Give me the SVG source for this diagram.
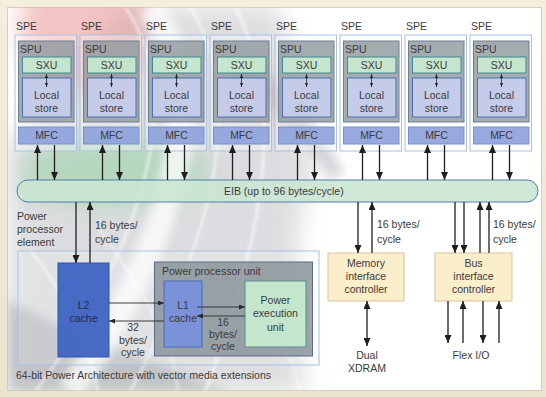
<svg xmlns="http://www.w3.org/2000/svg" width="546" height="397" viewBox="0 0 546 397">
  <defs>
    <style>
      .t { font-family: "Liberation Sans", Arial, sans-serif; font-size: 10.5px; fill: #3b3b3b; }
      .c { text-anchor: middle; }
      .spe { fill: #ffffff; fill-opacity: 0.35; stroke: #a9c1e2; stroke-width: 1; }
      .spu { fill: #8f979c; fill-opacity: 0.8; stroke: #6f7f92; stroke-width: 1; }
      .sxu { fill: #c6e8d0; fill-opacity: 0.95; stroke: #3f8a90; stroke-width: 1; }
      .ls { fill: #c9d0f0; fill-opacity: 0.88; stroke: #4a6fb5; stroke-width: 1; }
      .mfc { fill: #8ea2db; fill-opacity: 0.92; stroke: #7890cf; stroke-width: 1; }
      .ctl { fill: #fbeecb; stroke: #d6c69e; stroke-width: 1; }
      .ln { fill: none; stroke: #1e1e1e; stroke-width: 1.3; }
      .lns { fill: none; stroke: #2a2a2a; stroke-width: 0.9; }
      .up { marker-end: url(#ah); }
      .bi { marker-start: url(#ah); marker-end: url(#ah); }
      .sm { marker-end: url(#ahs); }
      .tiny { fill: none; stroke: #222; stroke-width: 0.8; marker-start: url(#aht); marker-end: url(#aht); }
    </style>
    <marker id="ah" viewBox="0 0 8 7" refX="8" refY="3.5" markerWidth="8" markerHeight="7" markerUnits="userSpaceOnUse" orient="auto-start-reverse">
      <path d="M0,0 L8,3.5 L0,7 Z" fill="#1e1e1e"/>
    </marker>
    <marker id="ahs" viewBox="0 0 6 5" refX="6" refY="2.5" markerWidth="6" markerHeight="5" markerUnits="userSpaceOnUse" orient="auto-start-reverse">
      <path d="M0,0 L6,2.5 L0,5 Z" fill="#2a2a2a"/>
    </marker>
    <marker id="aht" viewBox="0 0 4 3" refX="4" refY="1.5" markerWidth="4" markerHeight="3" markerUnits="userSpaceOnUse" orient="auto-start-reverse">
      <path d="M0,0 L4,1.5 L0,3 Z" fill="#222"/>
    </marker>
    <linearGradient id="frame" x1="0" y1="0" x2="0" y2="1">
      <stop offset="0" stop-color="#f4eedf"/>
      <stop offset="1" stop-color="#ece3cc"/>
    </linearGradient>
    <filter id="haze" x="-40%" y="-40%" width="180%" height="180%">
      <feGaussianBlur stdDeviation="12"/>
    </filter>
    <filter id="soft" x="-20%" y="-20%" width="140%" height="140%">
      <feGaussianBlur stdDeviation="5"/>
    </filter>
    <filter id="streak" x="-20%" y="-20%" width="140%" height="140%">
      <feGaussianBlur stdDeviation="1.5"/>
    </filter>
    <clipPath id="panel">
      <rect x="7.5" y="7.5" width="534" height="383"/>
    </clipPath>
  </defs>

  <!-- frame and panel -->
  <rect x="0" y="0" width="546" height="397" fill="url(#frame)"/>
  <rect x="7.5" y="7.5" width="534" height="383" fill="#ffffff" stroke="#d8cfbb" stroke-width="1"/>

  <!-- decorative background swirl -->
  <g id="backdrop" clip-path="url(#panel)">
    <!-- grey wash: left and lower-left, plus the band across the top middle -->
    <path d="M8,140 C40,110 90,60 120,7 L280,7 C290,60 300,120 315,170 C290,215 295,300 305,392 L8,392 Z" fill="#b9bcc1" opacity="0.5" filter="url(#haze)"/>
    <path d="M8,300 C60,330 150,360 230,392 L8,392 Z" fill="#9ea1a6" opacity="0.45" filter="url(#soft)"/>
    <path d="M240,50 C285,85 318,125 345,172 L330,180 C300,135 268,100 232,75 Z" fill="#8e959f" opacity="0.35" filter="url(#soft)"/>
    <!-- warm and green tints -->
    <ellipse cx="85" cy="25" rx="65" ry="65" fill="#e68a8a" opacity="0.5" filter="url(#haze)"/>
    <ellipse cx="265" cy="100" rx="45" ry="28" fill="#e3a3b3" opacity="0.22" filter="url(#haze)"/>
    <ellipse cx="115" cy="172" rx="95" ry="34" fill="#8fd09c" opacity="0.5" filter="url(#haze)"/>
    <!-- white highlight band and streaks -->
    <path d="M150,7 C215,100 170,250 70,392" fill="none" stroke="#ffffff" stroke-width="26" opacity="0.75" filter="url(#soft)"/>
    <g fill="none" stroke="#ffffff" stroke-opacity="0.75" filter="url(#streak)">
      <path d="M125,7 C190,100 140,250 35,392" stroke-width="2"/>
      <path d="M190,7 C255,110 200,260 130,392" stroke-width="2"/>
      <path d="M235,7 C295,120 250,270 205,392" stroke-width="2.5"/>
      <path d="M100,230 C150,300 175,350 178,392" stroke-width="1.5"/>
      <path d="M30,250 C70,300 90,350 98,392" stroke-width="2"/>
      <path d="M210,260 C260,300 290,340 300,392" stroke-width="1.5"/>
    </g>
  </g>

  <!-- synergistic processor elements -->
  <g id="spe1" transform="translate(15,0)">
    <text class="t" x="1" y="30">SPE</text>
    <rect class="spe" x="0" y="35" width="61.5" height="116"/>
    <rect class="spu" x="3.5" y="41" width="55.5" height="81"/>
    <text class="t" x="5" y="53">SPU</text>
    <rect class="sxu" x="7.5" y="57" width="48.5" height="16"/>
    <text class="t c" x="31.5" y="69">SXU</text>
    <rect class="ls" x="7.5" y="78" width="48.5" height="39"/>
    <text class="t c" x="31.5" y="99">Local</text>
    <text class="t c" x="31.5" y="112">store</text>
    <line class="tiny" x1="31.5" y1="74" x2="31.5" y2="87"/>
    <rect class="mfc" x="3.5" y="127" width="55.5" height="17"/>
    <text class="t c" x="31.5" y="139">MFC</text>
  </g>
  <g id="spe2" transform="translate(80,0)">
    <text class="t" x="1" y="30">SPE</text>
    <rect class="spe" x="0" y="35" width="61.5" height="116"/>
    <rect class="spu" x="3.5" y="41" width="55.5" height="81"/>
    <text class="t" x="5" y="53">SPU</text>
    <rect class="sxu" x="7.5" y="57" width="48.5" height="16"/>
    <text class="t c" x="31.5" y="69">SXU</text>
    <rect class="ls" x="7.5" y="78" width="48.5" height="39"/>
    <text class="t c" x="31.5" y="99">Local</text>
    <text class="t c" x="31.5" y="112">store</text>
    <line class="tiny" x1="31.5" y1="74" x2="31.5" y2="87"/>
    <rect class="mfc" x="3.5" y="127" width="55.5" height="17"/>
    <text class="t c" x="31.5" y="139">MFC</text>
  </g>
  <g id="spe3" transform="translate(145,0)">
    <text class="t" x="1" y="30">SPE</text>
    <rect class="spe" x="0" y="35" width="61.5" height="116"/>
    <rect class="spu" x="3.5" y="41" width="55.5" height="81"/>
    <text class="t" x="5" y="53">SPU</text>
    <rect class="sxu" x="7.5" y="57" width="48.5" height="16"/>
    <text class="t c" x="31.5" y="69">SXU</text>
    <rect class="ls" x="7.5" y="78" width="48.5" height="39"/>
    <text class="t c" x="31.5" y="99">Local</text>
    <text class="t c" x="31.5" y="112">store</text>
    <line class="tiny" x1="31.5" y1="74" x2="31.5" y2="87"/>
    <rect class="mfc" x="3.5" y="127" width="55.5" height="17"/>
    <text class="t c" x="31.5" y="139">MFC</text>
  </g>
  <g id="spe4" transform="translate(210,0)">
    <text class="t" x="1" y="30">SPE</text>
    <rect class="spe" x="0" y="35" width="61.5" height="116"/>
    <rect class="spu" x="3.5" y="41" width="55.5" height="81"/>
    <text class="t" x="5" y="53">SPU</text>
    <rect class="sxu" x="7.5" y="57" width="48.5" height="16"/>
    <text class="t c" x="31.5" y="69">SXU</text>
    <rect class="ls" x="7.5" y="78" width="48.5" height="39"/>
    <text class="t c" x="31.5" y="99">Local</text>
    <text class="t c" x="31.5" y="112">store</text>
    <line class="tiny" x1="31.5" y1="74" x2="31.5" y2="87"/>
    <rect class="mfc" x="3.5" y="127" width="55.5" height="17"/>
    <text class="t c" x="31.5" y="139">MFC</text>
  </g>
  <g id="spe5" transform="translate(275,0)">
    <text class="t" x="1" y="30">SPE</text>
    <rect class="spe" x="0" y="35" width="61.5" height="116"/>
    <rect class="spu" x="3.5" y="41" width="55.5" height="81"/>
    <text class="t" x="5" y="53">SPU</text>
    <rect class="sxu" x="7.5" y="57" width="48.5" height="16"/>
    <text class="t c" x="31.5" y="69">SXU</text>
    <rect class="ls" x="7.5" y="78" width="48.5" height="39"/>
    <text class="t c" x="31.5" y="99">Local</text>
    <text class="t c" x="31.5" y="112">store</text>
    <line class="tiny" x1="31.5" y1="74" x2="31.5" y2="87"/>
    <rect class="mfc" x="3.5" y="127" width="55.5" height="17"/>
    <text class="t c" x="31.5" y="139">MFC</text>
  </g>
  <g id="spe6" transform="translate(340,0)">
    <text class="t" x="1" y="30">SPE</text>
    <rect class="spe" x="0" y="35" width="61.5" height="116"/>
    <rect class="spu" x="3.5" y="41" width="55.5" height="81"/>
    <text class="t" x="5" y="53">SPU</text>
    <rect class="sxu" x="7.5" y="57" width="48.5" height="16"/>
    <text class="t c" x="31.5" y="69">SXU</text>
    <rect class="ls" x="7.5" y="78" width="48.5" height="39"/>
    <text class="t c" x="31.5" y="99">Local</text>
    <text class="t c" x="31.5" y="112">store</text>
    <line class="tiny" x1="31.5" y1="74" x2="31.5" y2="87"/>
    <rect class="mfc" x="3.5" y="127" width="55.5" height="17"/>
    <text class="t c" x="31.5" y="139">MFC</text>
  </g>
  <g id="spe7" transform="translate(405,0)">
    <text class="t" x="1" y="30">SPE</text>
    <rect class="spe" x="0" y="35" width="61.5" height="116"/>
    <rect class="spu" x="3.5" y="41" width="55.5" height="81"/>
    <text class="t" x="5" y="53">SPU</text>
    <rect class="sxu" x="7.5" y="57" width="48.5" height="16"/>
    <text class="t c" x="31.5" y="69">SXU</text>
    <rect class="ls" x="7.5" y="78" width="48.5" height="39"/>
    <text class="t c" x="31.5" y="99">Local</text>
    <text class="t c" x="31.5" y="112">store</text>
    <line class="tiny" x1="31.5" y1="74" x2="31.5" y2="87"/>
    <rect class="mfc" x="3.5" y="127" width="55.5" height="17"/>
    <text class="t c" x="31.5" y="139">MFC</text>
  </g>
  <g id="spe8" transform="translate(470,0)">
    <text class="t" x="1" y="30">SPE</text>
    <rect class="spe" x="0" y="35" width="61.5" height="116"/>
    <rect class="spu" x="3.5" y="41" width="55.5" height="81"/>
    <text class="t" x="5" y="53">SPU</text>
    <rect class="sxu" x="7.5" y="57" width="48.5" height="16"/>
    <text class="t c" x="31.5" y="69">SXU</text>
    <rect class="ls" x="7.5" y="78" width="48.5" height="39"/>
    <text class="t c" x="31.5" y="99">Local</text>
    <text class="t c" x="31.5" y="112">store</text>
    <line class="tiny" x1="31.5" y1="74" x2="31.5" y2="87"/>
    <rect class="mfc" x="3.5" y="127" width="55.5" height="17"/>
    <text class="t c" x="31.5" y="139">MFC</text>
  </g>

  <!-- element interconnect bus -->
  <g id="eib">
    <rect x="17" y="180" width="521" height="22" rx="11" ry="11" fill="#c9e6d2" fill-opacity="0.88" stroke="#4f7fa8" stroke-width="1"/>
    <text class="t" x="224" y="195">EIB (up to 96 bytes/cycle)</text>
  </g>

  <!-- power processor element -->
  <g id="ppe">
    <text class="t" x="17" y="220">Power</text>
    <text class="t" x="17" y="233">processor</text>
    <text class="t" x="17" y="246">element</text>
    <rect x="18" y="251" width="301" height="114" fill="#ffffff" fill-opacity="0.15" stroke="#a9c1e2" stroke-width="1"/>
    <text class="t" x="16" y="379">64-bit Power Architecture with vector media extensions</text>
  </g>
  <g id="l2">
    <rect x="58" y="263" width="51" height="94" fill="#3e63c2" fill-opacity="0.95" stroke="#2f55b0" stroke-width="1"/>
    <text class="t c" x="83.5" y="309" style="fill:#1f2d55">L2</text>
    <text class="t c" x="83.5" y="322" style="fill:#1f2d55">cache</text>
  </g>
  <g id="ppu">
    <rect x="154.5" y="262" width="158" height="94" fill="#8a949a" fill-opacity="0.85" stroke="#5c6d85" stroke-width="1"/>
    <text class="t" x="162" y="275">Power processor unit</text>
  </g>
  <g id="l1">
    <rect x="164" y="281" width="38" height="66" fill="#7b91d8" stroke="#4d6bc0" stroke-width="1"/>
    <text class="t c" x="183" y="309">L1</text>
    <text class="t c" x="183" y="322">cache</text>
  </g>
  <g id="peu">
    <rect x="245" y="281" width="61" height="66" fill="#c3e6cd" stroke="#5b8e90" stroke-width="1"/>
    <text class="t c" x="275.5" y="304">Power</text>
    <text class="t c" x="275.5" y="317">execution</text>
    <text class="t c" x="275.5" y="331">unit</text>
  </g>

  <!-- interface controllers -->
  <g id="mic">
    <rect class="ctl" x="328" y="253" width="76" height="48"/>
    <text class="t c" x="366" y="267">Memory</text>
    <text class="t c" x="366" y="280">interface</text>
    <text class="t c" x="366" y="293">controller</text>
  </g>
  <g id="bic">
    <rect class="ctl" x="435" y="253" width="77" height="48"/>
    <text class="t c" x="473.5" y="267">Bus</text>
    <text class="t c" x="473.5" y="280">interface</text>
    <text class="t c" x="473.5" y="293">controller</text>
  </g>
  <g id="xdram">
    <text class="t c" x="367" y="359">Dual</text>
    <text class="t c" x="367" y="372">XDRAM</text>
  </g>
  <g id="flexio">
    <text class="t c" x="471" y="359">Flex I/O</text>
  </g>

  <!-- connectors -->
  <g id="connectors">
    <!-- SPE to EIB -->
    <line class="ln up" x1="37.5" y1="180" x2="37.5" y2="145"/>
    <line class="ln up" x1="54.5" y1="145" x2="54.5" y2="180"/>
    <line class="ln up" x1="102.5" y1="180" x2="102.5" y2="145"/>
    <line class="ln up" x1="119.5" y1="145" x2="119.5" y2="180"/>
    <line class="ln up" x1="167.5" y1="180" x2="167.5" y2="145"/>
    <line class="ln up" x1="184.5" y1="145" x2="184.5" y2="180"/>
    <line class="ln up" x1="232.5" y1="180" x2="232.5" y2="145"/>
    <line class="ln up" x1="249.5" y1="145" x2="249.5" y2="180"/>
    <line class="ln up" x1="297.5" y1="180" x2="297.5" y2="145"/>
    <line class="ln up" x1="314.5" y1="145" x2="314.5" y2="180"/>
    <line class="ln up" x1="362.5" y1="180" x2="362.5" y2="145"/>
    <line class="ln up" x1="379.5" y1="145" x2="379.5" y2="180"/>
    <line class="ln up" x1="427.5" y1="180" x2="427.5" y2="145"/>
    <line class="ln up" x1="444.5" y1="145" x2="444.5" y2="180"/>
    <line class="ln up" x1="492.5" y1="180" x2="492.5" y2="145"/>
    <line class="ln up" x1="509.5" y1="145" x2="509.5" y2="180"/>

    <!-- EIB to L2 -->
    <line class="ln up" x1="76" y1="202" x2="76" y2="263"/>
    <line class="ln up" x1="90" y1="263" x2="90" y2="202"/>
    <text class="t" x="95" y="229">16 bytes/</text>
    <text class="t" x="95" y="243">cycle</text>

    <!-- L2 / L1 / execution unit -->
    <line class="lns sm" x1="109" y1="303" x2="164" y2="303"/>
    <line class="lns sm" x1="164" y1="321" x2="109" y2="321"/>
    <line class="lns sm" x1="197" y1="307" x2="245" y2="307"/>
    <line class="lns sm" x1="245" y1="316" x2="197" y2="316"/>
    <text class="t c" x="133" y="331">32</text>
    <text class="t c" x="133" y="344">bytes/</text>
    <text class="t c" x="133" y="356">cycle</text>
    <text class="t c" x="223" y="326">16</text>
    <text class="t c" x="223" y="338">bytes/</text>
    <text class="t c" x="223" y="350">cycle</text>

    <!-- EIB to memory interface -->
    <line class="ln up" x1="358" y1="202" x2="358" y2="253"/>
    <line class="ln up" x1="372" y1="253" x2="372" y2="202"/>
    <text class="t" x="377" y="228">16 bytes/</text>
    <text class="t" x="377" y="243">cycle</text>
    <line class="ln bi" x1="367" y1="301" x2="367" y2="346"/>

    <!-- EIB to bus interface -->
    <line class="ln up" x1="455" y1="202" x2="455" y2="253"/>
    <line class="ln up" x1="464" y1="202" x2="464" y2="253"/>
    <line class="ln up" x1="480" y1="253" x2="480" y2="202"/>
    <line class="ln up" x1="489" y1="253" x2="489" y2="202"/>
    <text class="t" x="493" y="228">16 bytes/</text>
    <text class="t" x="493" y="243">cycle</text>

    <!-- bus interface to Flex I/O -->
    <line class="ln up" x1="448" y1="301" x2="448" y2="343"/>
    <line class="ln up" x1="463" y1="343" x2="463" y2="301"/>
    <line class="ln up" x1="483" y1="301" x2="483" y2="343"/>
    <line class="ln up" x1="499" y1="343" x2="499" y2="301"/>
  </g>
</svg>
